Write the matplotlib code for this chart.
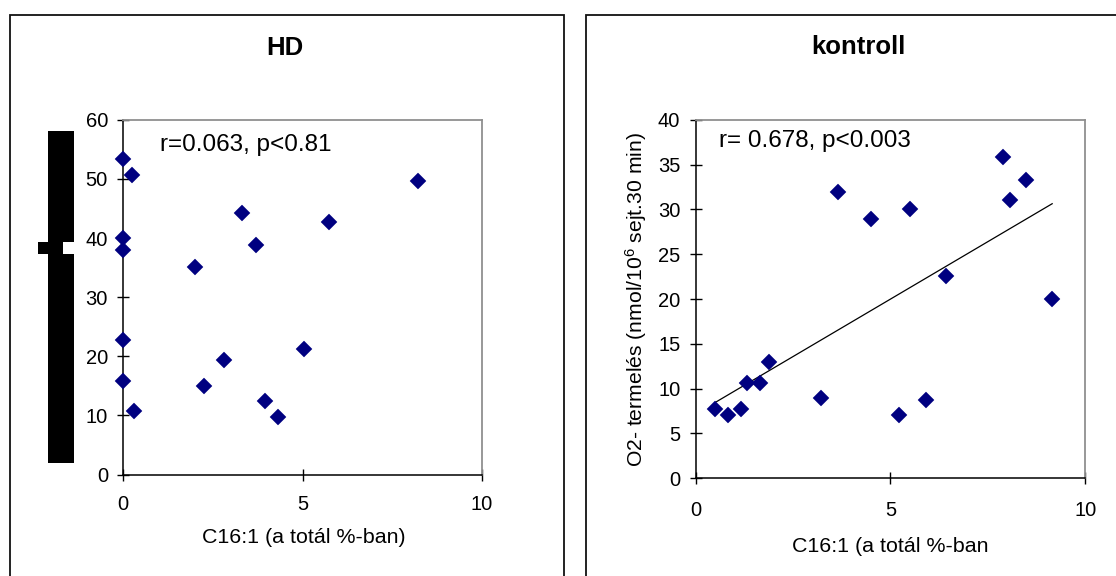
import numpy as np
import matplotlib
matplotlib.use("Agg")
import matplotlib.pyplot as plt
from matplotlib.patches import Rectangle

plt.rcParams['font.family'] = ['Liberation Sans', 'DejaVu Sans']
plt.rcParams['mathtext.default'] = 'regular'

# ---- data ----
hd_x = [0.0, 0.25, 0.0, 0.0, 0.0, 0.0, 0.3, 2.01, 2.24, 2.8, 3.32, 3.70, 3.96, 4.31, 5.03, 5.75, 8.21]
hd_y = [53.4, 50.7, 40.0, 37.9, 22.7, 15.9, 10.8, 35.1, 14.9, 19.3, 44.3, 38.9, 12.5, 9.8, 21.3, 42.7, 49.7]

ko_x = [0.51, 0.82, 1.16, 1.32, 1.66, 1.89, 3.21, 3.66, 4.50, 5.21, 5.49, 5.91, 6.43, 7.89, 8.07, 8.49, 9.15]
ko_y = [7.7, 7.1, 7.7, 10.6, 10.6, 13.0, 9.0, 32.0, 28.9, 7.1, 30.0, 8.7, 22.6, 35.9, 31.0, 33.3, 20.0]

hd_title = "HD"
ko_title = "kontroll"
hd_note = "r=0.063, p<0.81"
ko_note = "r= 0.678, p<0.003"
hd_xlabel = "C16:1 (a totál %-ban)"
ko_xlabel = "C16:1 (a totál %-ban"
ko_ylabel = "O2- termelés (nmol/10$^{6}$ sejt.30 min)"
x_ticks = [0, 5, 10]
hd_yticks = [0, 10, 20, 30, 40, 50, 60]
ko_yticks = [0, 5, 10, 15, 20, 25, 30, 35, 40]

W, H = 1116, 576
fig = plt.figure(figsize=(W / 100, H / 100), dpi=100)

def px_rect(x0, y0, x1, y1, **kw):
    r = Rectangle((x0 / W, 1 - y1 / H), (x1 - x0) / W, (y1 - y0) / H,
                  transform=fig.transFigure, **kw)
    fig.add_artist(r)
    return r

# outer chart frames
px_rect(10, 14.5, 564, 600, fill=False, edgecolor='#111111', linewidth=1.3)
px_rect(586, 14.5, 1140, 600, fill=False, edgecolor='#111111', linewidth=1.3)

def style_ax(ax, yticks, ylim):
    ax.set_xlim(0, 10)
    ax.set_ylim(*ylim)
    ax.set_xticks(x_ticks)
    ax.set_yticks(yticks)
    for s in ['top', 'right']:
        ax.spines[s].set_color('#909090')
        ax.spines[s].set_linewidth(1.3)
    for s in ['left', 'bottom']:
        ax.spines[s].set_color('black')
        ax.spines[s].set_linewidth(1.1)
    ax.tick_params(direction='inout', length=8, width=1.0, labelsize=14.5, colors='black')
    ax.tick_params(axis='y', pad=7)

LABEL_FS = 15.4
MS = 8.0

# left axes
ax1 = fig.add_axes([123.2 / W, 1 - 474.6 / H, (481.8 - 123.2) / W, (474.6 - 119.8) / H])
style_ax(ax1, hd_yticks, (0, 60))
ax1.tick_params(axis='x', pad=10.5)
ax1.plot(hd_x, hd_y, linestyle='none', marker='D', markersize=MS, color='#000080',
         markeredgewidth=0.3, clip_on=False, zorder=5)
ax1.text(0.1026, 0.929, hd_note, transform=ax1.transAxes, fontsize=17.5, va='center', ha='left')
ax1.set_xlabel(hd_xlabel, fontsize=LABEL_FS, va='center')
ax1.xaxis.set_label_coords(0.503, -0.178)

# right axes
ax2 = fig.add_axes([695.6 / W, 1 - 478.3 / H, (1085.3 - 695.6) / W, (478.3 - 119.8) / H])
style_ax(ax2, ko_yticks, (0, 40))
ax2.tick_params(axis='x', pad=12.5)
ax2.plot(ko_x, ko_y, linestyle='none', marker='D', markersize=MS, color='#000080',
         markeredgewidth=0.3, clip_on=False, zorder=5)
coef = np.polyfit(ko_x, ko_y, 1)
xs = np.array([min(ko_x), max(ko_x)])
ax2.plot(xs, np.polyval(coef, xs), color='black', linewidth=0.9, zorder=4)
ax2.text(0.0613, 0.9414, ko_note, transform=ax2.transAxes, fontsize=17.5, va='center', ha='left')
ax2.set_xlabel(ko_xlabel, fontsize=LABEL_FS, va='center')
ax2.xaxis.set_label_coords(0.5, -0.191)
ax2.set_ylabel(ko_ylabel, fontsize=15.2, va='center')
ax2.yaxis.set_label_coords(-0.152, 0.498)

# titles
fig.text(285 / W, 1 - 47.8 / H, hd_title, fontsize=18.5, fontweight='bold', ha='center', va='center')
fig.text(858.6 / W, 1 - 47 / H, ko_title, fontsize=18.5, fontweight='bold', ha='center', va='center')

# black redaction block over the left y label
px_rect(48.3, 130.7, 74.3, 462.7, facecolor='black', edgecolor='none')
px_rect(63.3, 242.3, 74.3, 254.3, facecolor='white', edgecolor='none')
px_rect(38.3, 242.3, 63.3, 254.3, facecolor='black', edgecolor='none')

fig.savefig('out.png', dpi=100)
